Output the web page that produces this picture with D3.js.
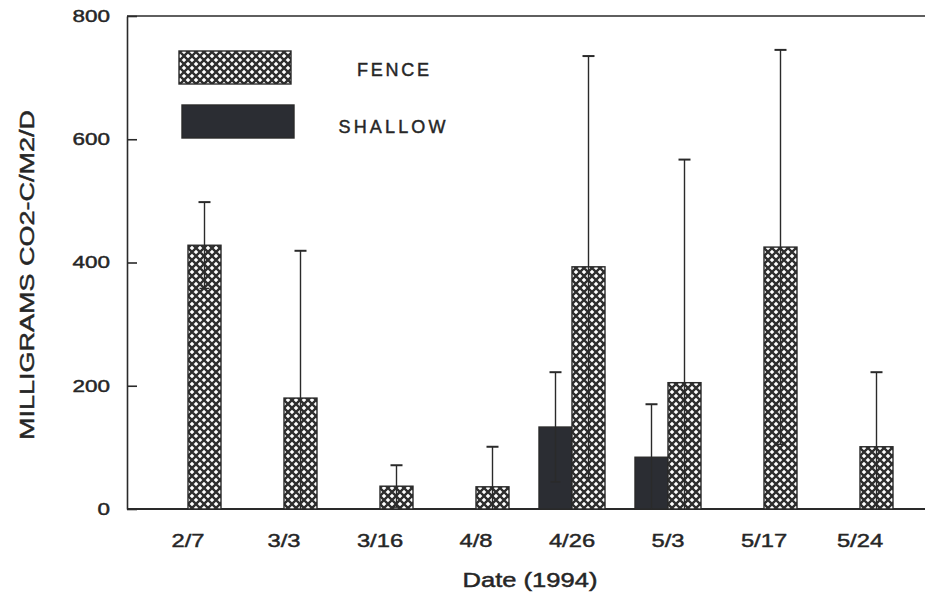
<head>
  <title>Fence vs Shallow</title>
  <script src="https://d3js.org/d3.v7.min.js"></script>
  <meta charset="utf-8">
  <style>
    body { margin: 0; background: #fff; }
    text { font-family: "Liberation Sans", Arial, sans-serif; fill: #262626; stroke: #262626; stroke-width: 0.45px; }
  </style>
</head>

<body>
  <div id="my_dataviz"></div>
  <script>

    // data
    var dates = ["2/7", "3/3", "3/16", "4/8", "4/26", "5/3", "5/17", "5/24"];
    var series = ["SHALLOW", "FENCE"];
    var fenceMean = [428, 180, 37, 36, 393, 205, 425, 101];
    var fenceErr = [70, 239, 34, 65, 342, 362, 320, 121];
    var shallowMean = [null, null, null, null, 133, 84, null, null];
    var shallowErr = [null, null, null, null, 89, 86, null, null];
    var yTicks = [0, 200, 400, 600, 800];

    // set the dimensions and margins of the graph
    var margin = { top: 16, right: 0, bottom: 84, left: 127 },
      width = 925 - margin.left - margin.right,
      height = 593 - margin.top - margin.bottom;

    var root = d3.select("#my_dataviz")
      .append("svg")
      .attr("width", 925)
      .attr("height", 593);

    // crosshatch fill
    var pat = root.append("defs").append("pattern")
      .attr("id", "xhatch")
      .attr("patternUnits", "userSpaceOnUse")
      .attr("width", 8)
      .attr("height", 8);
    pat.append("rect").attr("width", 8).attr("height", 8).attr("fill", "#fff");
    pat.append("path")
      .attr("d", "M-2,-2L10,10M10,-2L-2,10")
      .attr("stroke", "#2e2e2e")
      .attr("stroke-width", 2.4);

    var svg = root.append("g")
      .attr("transform", "translate(" + margin.left + "," + margin.top + ")");

    // stretch text a bit wider, the scan looks horizontally spread
    function stretch(sel, k) {
      sel.each(function () {
        var w = this.getComputedTextLength();
        d3.select(this).attr("textLength", w * k).attr("lengthAdjust", "spacingAndGlyphs");
      });
    }

    // build rows from the arrays
    var rows = dates.map(function (d, i) {
      return {
        date: d,
        bars: [
          { key: "SHALLOW", value: shallowMean[i], err: shallowErr[i] },
          { key: "FENCE", value: fenceMean[i], err: fenceErr[i] }
        ].filter(function (b) { return b.value != null; })
      };
    });

    // X scales
    var x0 = d3.scaleBand()
      .domain(dates)
      .range([13, 781]);
    var bw = 33;
    var x1 = d3.scaleBand()
      .domain(series)
      .range([x0.bandwidth() / 2 - bw, x0.bandwidth() / 2 + bw]);

    // Y scale
    var y = d3.scaleLinear()
      .domain([0, 800])
      .range([height, 0]);

    // top line and baseline
    svg.append("line")
      .attr("x1", 0).attr("x2", width)
      .attr("y1", y(800)).attr("y2", y(800))
      .attr("stroke", "#2a2a2a").attr("stroke-width", 1.6);
    svg.append("line")
      .attr("x1", 0).attr("x2", width)
      .attr("y1", y(0)).attr("y2", y(0))
      .attr("stroke", "#2a2a2a").attr("stroke-width", 1.8);

    // Y axis, ticks pointing inward
    var yAxis = svg.append("g")
      .call(d3.axisLeft(y).tickValues(yTicks).tickSizeInner(-10).tickSizeOuter(0).tickPadding(17));
    yAxis.selectAll("path, line").attr("stroke", "#2a2a2a").attr("stroke-width", 1.6);
    yAxis.selectAll("text")
      .style("font-size", "17px")
      .style("font-family", "\"Liberation Sans\", Arial, sans-serif")
      .attr("fill", "#262626")
      .call(stretch, 1.32);

    // X axis labels
    var xAxis = svg.append("g")
      .attr("transform", "translate(0," + height + ")")
      .call(d3.axisBottom(x0).tickSize(0).tickPadding(25));
    xAxis.select(".domain").remove();
    xAxis.selectAll("text")
      .style("font-size", "19px")
      .style("font-family", "\"Liberation Sans\", Arial, sans-serif")
      .attr("fill", "#262626")
      .call(stretch, 1.25);

    // bars
    var groups = svg.selectAll(".grp")
      .data(rows)
      .enter()
      .append("g")
      .attr("class", "grp")
      .attr("transform", function (d) { return "translate(" + x0(d.date) + ",0)"; });

    groups.selectAll("rect")
      .data(function (d) { return d.bars; })
      .enter()
      .append("rect")
      .attr("x", function (d) { return x1(d.key); })
      .attr("y", function (d) { return y(d.value); })
      .attr("width", x1.bandwidth())
      .attr("height", function (d) { return y(0) - y(d.value); })
      .attr("fill", function (d) { return d.key == "FENCE" ? "url(#xhatch)" : "#2b2d33"; })
      .attr("stroke", "#2a2a2a")
      .attr("stroke-width", 1.4);

    // error bars (mean +/- err, clipped at zero)
    var eb = groups.selectAll(".err")
      .data(function (d) { return d.bars; })
      .enter()
      .append("g")
      .attr("class", "err")
      .attr("stroke", "#2a2a2a")
      .attr("stroke-width", 1.4);

    function cx(d) { return x1(d.key) + x1.bandwidth() / 2; }
    function lo(d) { return Math.max(0, d.value - d.err); }

    eb.append("line")
      .attr("x1", cx).attr("x2", cx)
      .attr("y1", function (d) { return y(d.value + d.err); })
      .attr("y2", function (d) { return y(lo(d)); });
    eb.append("line")
      .attr("x1", function (d) { return cx(d) - 6; })
      .attr("x2", function (d) { return cx(d) + 6; })
      .attr("y1", function (d) { return y(d.value + d.err); })
      .attr("y2", function (d) { return y(d.value + d.err); })
      .attr("stroke-width", 2);
    eb.filter(function (d) { return d.value - d.err > 0; })
      .append("line")
      .attr("x1", function (d) { return cx(d) - 5; })
      .attr("x2", function (d) { return cx(d) + 5; })
      .attr("y1", function (d) { return y(lo(d)); })
      .attr("y2", function (d) { return y(lo(d)); });

    // legend
    var legend = root.append("g");
    legend.append("rect")
      .attr("x", 179).attr("y", 51).attr("width", 112).attr("height", 33)
      .attr("fill", "url(#xhatch)").attr("stroke", "#2a2a2a").attr("stroke-width", 1.4);
    legend.append("rect")
      .attr("x", 182).attr("y", 105).attr("width", 112).attr("height", 33)
      .attr("fill", "#2b2d33").attr("stroke", "#2a2a2a").attr("stroke-width", 1.4);
    legend.append("text")
      .attr("x", 393).attr("y", 76)
      .attr("text-anchor", "middle")
      .style("font-size", "18px")
      .text("FENCE")
      .attr("textLength", 72).attr("lengthAdjust", "spacing");
    legend.append("text")
      .attr("x", 392).attr("y", 133)
      .attr("text-anchor", "middle")
      .style("font-size", "18px")
      .text("SHALLOW")
      .attr("textLength", 107).attr("lengthAdjust", "spacing");

    // axis titles
    root.append("text")
      .attr("transform", "translate(34,275) rotate(-90)")
      .attr("text-anchor", "middle")
      .style("font-size", "20px")
      .text("MILLIGRAMS CO2-C/M2/D")
      .attr("textLength", 330).attr("lengthAdjust", "spacingAndGlyphs");
    root.append("text")
      .attr("x", 530).attr("y", 587)
      .attr("text-anchor", "middle")
      .style("font-size", "20px")
      .text("Date (1994)")
      .attr("textLength", 135).attr("lengthAdjust", "spacingAndGlyphs");

  </script>
</body>

</html>
